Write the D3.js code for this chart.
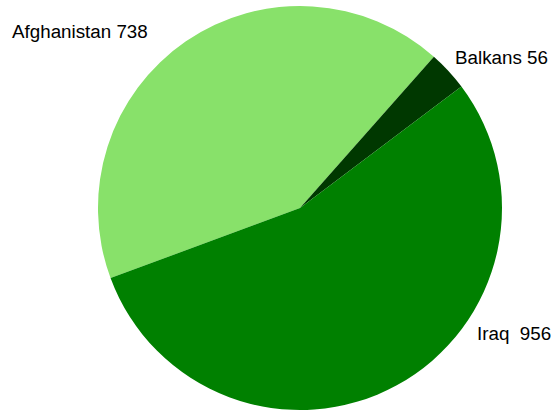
<!DOCTYPE html>
<html>
<head>
<meta charset="utf-8">
<script src="https://cdn.jsdelivr.net/npm/d3@7"></script>
<style>
  html, body { margin: 0; padding: 0; background: #fff; }
  svg { display: block; }
  text { font-family: "Liberation Sans", Arial, sans-serif; font-size: 18.8px; fill: #000; }
</style>
</head>
<body>
<svg id="chart" width="552" height="412"></svg>
<script>
// Deaths by theatre
const regions = ["Afghanistan", "Balkans", "Iraq"];
const deaths = [738, 56, 956];
const labels = ["Afghanistan 738", "Balkans 56", "Iraq  956"];
const colors = ["#88e16a", "#003800", "#008000"];

const width = 552, height = 412;
const cx = 300, cy = 208, radius = 202;

// where each label sits, and which end of the text is anchored there
const labelSpots = {
  Afghanistan: { x: 12, y: 38, anchor: "start" },
  Balkans: { x: 455, y: 64, anchor: "start" },
  Iraq: { x: 477, y: 340, anchor: "start" }
};

const data = regions.map((r, i) => ({ region: r, value: deaths[i], label: labels[i], color: colors[i] }));

const startDeg = -110.3;
const pie = d3.pie()
  .value(d => d.value)
  .sort(null)
  .startAngle(startDeg * Math.PI / 180)
  .endAngle((startDeg + 360) * Math.PI / 180);

const arc = d3.arc().innerRadius(0).outerRadius(radius);

const svg = d3.select("#chart");
const g = svg.append("g").attr("transform", `translate(${cx},${cy})`);

g.selectAll("path")
  .data(pie(data))
  .join("path")
  .attr("d", arc)
  .attr("fill", d => d.data.color);

svg.selectAll("text.slice-label")
  .data(data)
  .join("text")
  .attr("class", "slice-label")
  .attr("x", d => labelSpots[d.region].x)
  .attr("y", d => labelSpots[d.region].y)
  .attr("text-anchor", d => labelSpots[d.region].anchor)
  .attr("xml:space", "preserve")
  .style("white-space", "pre")
  .text(d => d.label);
</script>
</body>
</html>
